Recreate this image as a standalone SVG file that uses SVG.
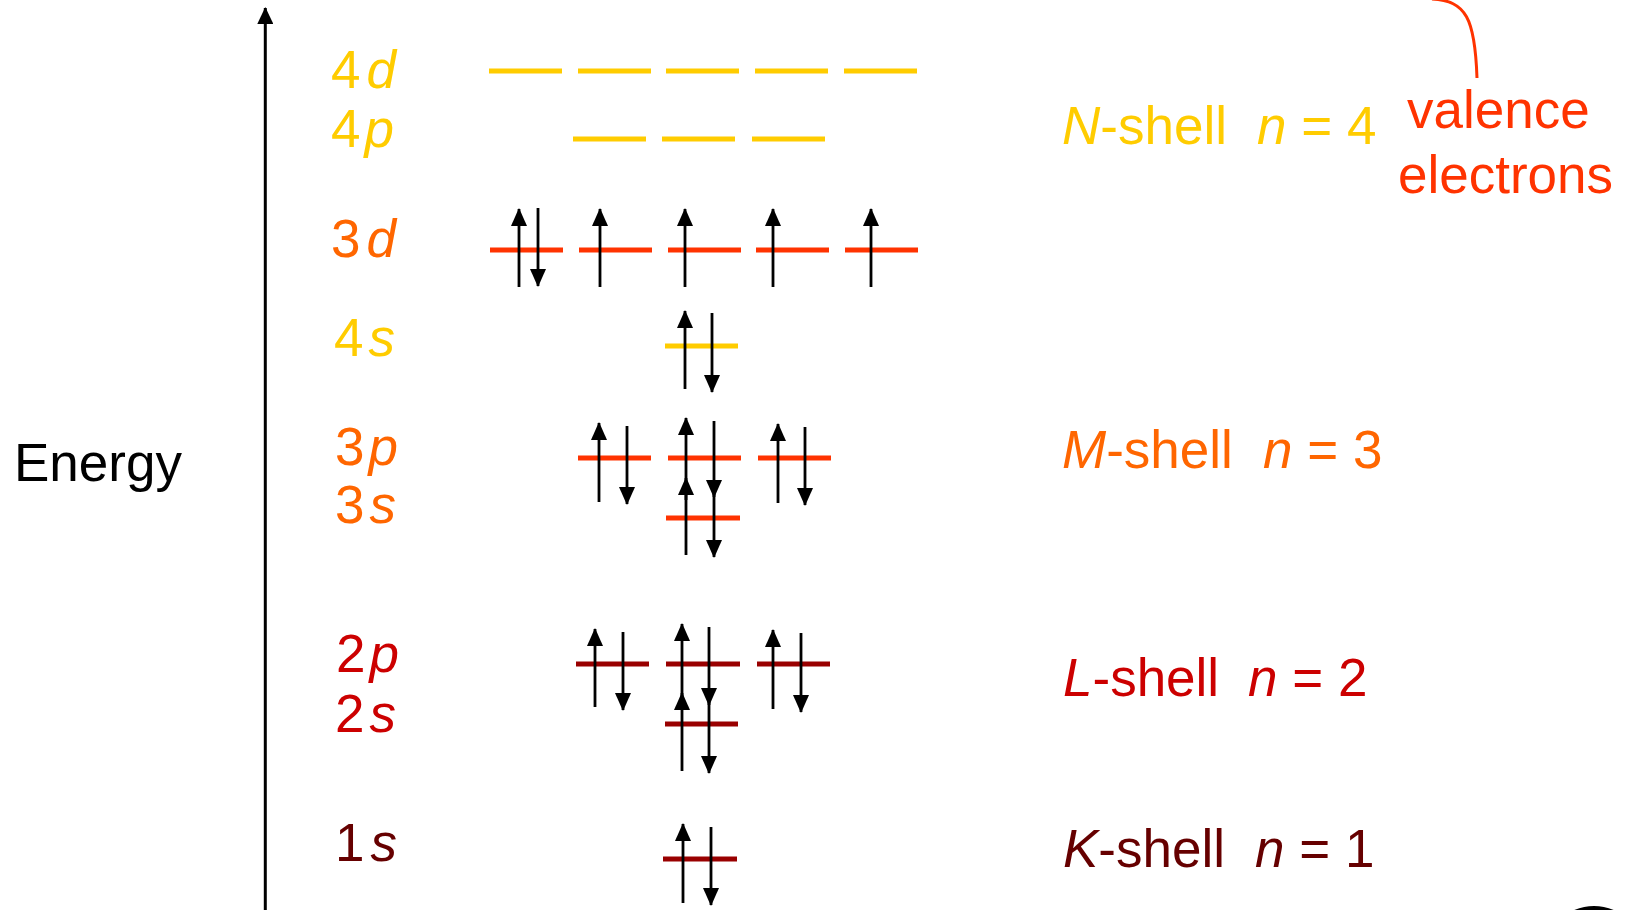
<svg xmlns="http://www.w3.org/2000/svg" width="1632" height="910" viewBox="0 0 1632 910">
<defs>
<style>
text{font-family:"Liberation Sans",Arial,sans-serif;font-size:53px}
.i{font-style:italic}
.y{fill:#FFCC00}.o{fill:#FF6600}.r{fill:#CC0000}.k{fill:#660000}.v{fill:#FF3300}
.ly{stroke:#FFCC00;stroke-width:5}
.lo{stroke:#FF3300;stroke-width:5}
.lr{stroke:#990000;stroke-width:5}
.a{stroke:#000;stroke-width:2.8;fill:none;marker-end:url(#ah)}
</style>
<marker id="ah" viewBox="0 0 18 16" refX="17" refY="8" markerWidth="18" markerHeight="16" markerUnits="userSpaceOnUse" orient="auto">
<path d="M0,0 L18,8 L0,16 Z" fill="#000"/>
</marker>
<marker id="axh" viewBox="0 0 17 16" refX="16" refY="8" markerWidth="17" markerHeight="16" markerUnits="userSpaceOnUse" orient="auto">
<path d="M0,0 L17,8 L0,16 Z" fill="#000"/>
</marker>
</defs>
<rect width="1632" height="910" fill="#fff"/>

<g id="axis">
<line x1="265.3" y1="912" x2="265.3" y2="8" stroke="#000" stroke-width="3" marker-end="url(#axh)"/>
<text x="14" y="481" fill="#000">Energy</text>
</g>

<g id="labels">
<text x="331" y="88" class="y">4<tspan class="i" dx="6">d</tspan></text>
<text x="331" y="147" class="y">4<tspan class="i" dx="4">p</tspan></text>
<text x="331" y="257" class="o">3<tspan class="i" dx="6">d</tspan></text>
<text x="334" y="356" class="y">4<tspan class="i" dx="5">s</tspan></text>
<text x="335" y="465" class="o">3<tspan class="i" dx="4">p</tspan></text>
<text x="335" y="523" class="o">3<tspan class="i" dx="5">s</tspan></text>
<text x="336" y="672" class="r">2<tspan class="i" dx="4">p</tspan></text>
<text x="335" y="732" class="r">2<tspan class="i" dx="5">s</tspan></text>
<text x="335" y="861" class="k">1<tspan class="i" dx="6">s</tspan></text>
</g>

<g id="shell-N">
<text x="1062" y="144" class="y"><tspan class="i">N</tspan>-shell<tspan x="1257" class="i">n</tspan> = 4</text>
</g>
<g id="shell-M">
<text x="1062" y="468" class="o"><tspan class="i">M</tspan>-shell<tspan x="1263" class="i">n</tspan> = 3</text>
</g>
<g id="shell-L">
<text x="1063" y="696" class="r"><tspan class="i">L</tspan>-shell<tspan x="1248" class="i">n</tspan> = 2</text>
</g>
<g id="shell-K">
<text x="1063" y="867" class="k"><tspan class="i">K</tspan>-shell<tspan x="1255" class="i">n</tspan> = 1</text>
</g>

<g id="valence">
<path d="M1432,-1 C1466,1 1475,18 1477,78" fill="none" stroke="#FF3300" stroke-width="3"/>
<text x="1407" y="128" class="v">valence</text>
<text x="1398" y="193" class="v">electrons</text>
</g>

<g id="level-4d">
<line class="ly" x1="489" y1="71" x2="562" y2="71"/>
<line class="ly" x1="578" y1="71" x2="651" y2="71"/>
<line class="ly" x1="666" y1="71" x2="739" y2="71"/>
<line class="ly" x1="755" y1="71" x2="828" y2="71"/>
<line class="ly" x1="844" y1="71" x2="917" y2="71"/>
</g>
<g id="level-4p">
<line class="ly" x1="573" y1="139" x2="646" y2="139"/>
<line class="ly" x1="662" y1="139" x2="735" y2="139"/>
<line class="ly" x1="752" y1="139" x2="825" y2="139"/>
</g>
<g id="level-3d">
<line class="lo" x1="490" y1="250" x2="563" y2="250"/>
<line class="lo" x1="579" y1="250" x2="652" y2="250"/>
<line class="lo" x1="668" y1="250" x2="741" y2="250"/>
<line class="lo" x1="756" y1="250" x2="829" y2="250"/>
<line class="lo" x1="845" y1="250" x2="918" y2="250"/>
</g>
<g id="level-4s">
<line class="ly" x1="665" y1="346" x2="738" y2="346"/>
</g>
<g id="level-3p">
<line class="lo" x1="578" y1="458" x2="651" y2="458"/>
<line class="lo" x1="668" y1="458" x2="741" y2="458"/>
<line class="lo" x1="758" y1="458" x2="831" y2="458"/>
</g>
<g id="level-3s">
<line class="lo" x1="666" y1="518" x2="740" y2="518"/>
</g>
<g id="level-2p">
<line class="lr" x1="576" y1="664" x2="649" y2="664"/>
<line class="lr" x1="666" y1="664" x2="740" y2="664"/>
<line class="lr" x1="757" y1="664" x2="830" y2="664"/>
</g>
<g id="level-2s">
<line class="lr" x1="665" y1="724" x2="738" y2="724"/>
</g>
<g id="level-1s">
<line class="lr" x1="663" y1="859" x2="737" y2="859"/>
</g>

<g id="electrons">
<line class="a" x1="519" y1="287" x2="519" y2="209"/>
<line class="a" x1="538" y1="208" x2="538" y2="286"/>
<line class="a" x1="600" y1="287" x2="600" y2="209"/>
<line class="a" x1="685" y1="287" x2="685" y2="209"/>
<line class="a" x1="773" y1="287" x2="773" y2="209"/>
<line class="a" x1="871" y1="287" x2="871" y2="209"/>

<line class="a" x1="685" y1="389" x2="685" y2="311"/>
<line class="a" x1="712" y1="313" x2="712" y2="392"/>

<line class="a" x1="599" y1="502" x2="599" y2="423"/>
<line class="a" x1="627" y1="426" x2="627" y2="504"/>
<line class="a" x1="686" y1="500" x2="686" y2="418"/>
<line class="a" x1="714" y1="421" x2="714" y2="497"/>
<line class="a" x1="778" y1="503" x2="778" y2="424"/>
<line class="a" x1="805" y1="427" x2="805" y2="505"/>

<line class="a" x1="686" y1="555" x2="686" y2="478"/>
<line class="a" x1="714" y1="480" x2="714" y2="557"/>

<line class="a" x1="595" y1="707" x2="595" y2="629"/>
<line class="a" x1="623" y1="632" x2="623" y2="710"/>
<line class="a" x1="682" y1="702" x2="682" y2="624"/>
<line class="a" x1="709" y1="627" x2="709" y2="705"/>
<line class="a" x1="773" y1="709" x2="773" y2="630"/>
<line class="a" x1="801" y1="633" x2="801" y2="712"/>

<line class="a" x1="682" y1="771" x2="682" y2="693"/>
<line class="a" x1="709" y1="695" x2="709" y2="773"/>

<line class="a" x1="683" y1="903" x2="683" y2="824"/>
<line class="a" x1="711" y1="827" x2="711" y2="905"/>
</g>

<path d="M1572,911 Q1594,901 1616,911 Z" fill="#000"/>
</svg>
